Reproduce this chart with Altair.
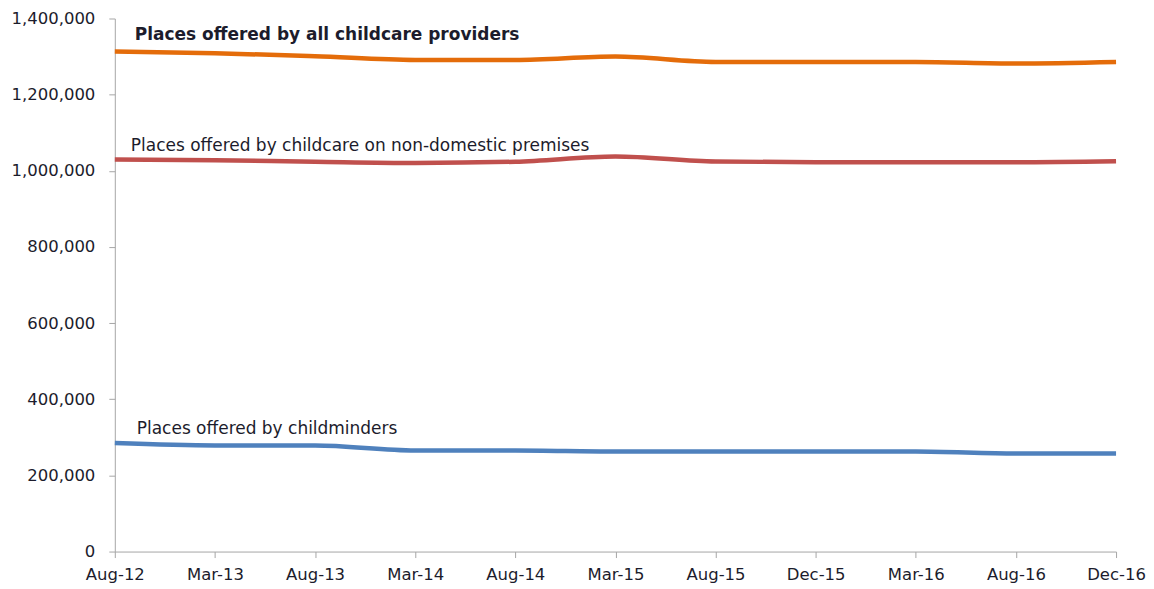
import altair as alt
import pandas as pd

periods = ["Aug-12", "Mar-13", "Aug-13", "Mar-14", "Aug-14", "Mar-15",
           "Aug-15", "Dec-15", "Mar-16", "Aug-16", "Dec-16"]
all_providers = [1313000, 1309000, 1301000, 1291000, 1291000, 1300000,
                 1286000, 1286000, 1286000, 1282000, 1286000]
non_domestic = [1029500, 1027700, 1023800, 1020700, 1023800, 1037300,
                1024300, 1022500, 1022500, 1022500, 1025100]
childminders = [284800, 278600, 278600, 265600, 265600, 263000,
                263000, 263000, 263000, 257800, 257800]
y_ticks = [0, 200000, 400000, 600000, 800000, 1000000, 1200000, 1400000]

series_names = ["All", "Non-domestic", "Childminders"]
series_colors = ["#E46C0A", "#C0504D", "#4F81BD"]

label_texts = ["Places offered by all childcare providers",
               "Places offered by childcare on non-domestic premises",
               "Places offered by childminders"]
label_values = [1356000, 1066000, 321000]
label_weights = ["bold", "normal", "normal"]
label_dx = [20, 16, 22]

rows = []
for name, vals in zip(series_names, [all_providers, non_domestic, childminders]):
    for p, v in zip(periods, vals):
        rows.append({"period": p, "value": v, "series": name})
df = pd.DataFrame(rows)

FONT = "DejaVu Sans"
TEXT_COLOR = "#1c1c2c"

x_enc = alt.X("period:N", sort=periods, title=None,
              scale=alt.Scale(padding=0),
              axis=alt.Axis(labelAngle=0, labelPadding=9))
y_enc = alt.Y("value:Q", title=None,
              scale=alt.Scale(domain=[0, 1400000], nice=False),
              axis=alt.Axis(values=y_ticks, format=",.0f", labelPadding=14))

lines = alt.Chart(df).mark_line(strokeWidth=4.5, interpolate="monotone").encode(
    x=x_enc, y=y_enc,
    color=alt.Color("series:N", scale=alt.Scale(domain=series_names, range=series_colors),
                    legend=None),
    detail="series:N",
)

layers = [lines]
for t, v, w, dx in zip(label_texts, label_values, label_weights, label_dx):
    ldf = pd.DataFrame({"period": [periods[0]], "value": [v], "text": [t]})
    layers.append(
        alt.Chart(ldf).mark_text(align="left", baseline="middle", dx=dx,
                                 font=FONT, fontSize=17, fontWeight=w,
                                 color=TEXT_COLOR).encode(
            x=x_enc, y=y_enc, text="text:N",
        )
    )

chart = alt.layer(*layers).properties(
    width=1003, height=534,
    autosize=alt.AutoSizeParams(type="none"),
    padding={"left": 107, "top": 10, "right": 30, "bottom": 36},
).configure(
    background="white"
).configure_view(
    stroke=None
).configure_axis(
    labelFont=FONT, labelFontSize=16.5, labelColor=TEXT_COLOR,
    domainColor="#A6A6A6", tickColor="#A6A6A6", tickSize=6,
    grid=False, domainWidth=1, tickWidth=1,
)

chart.save("out.html", embed_options={"renderer": "svg", "actions": False})
